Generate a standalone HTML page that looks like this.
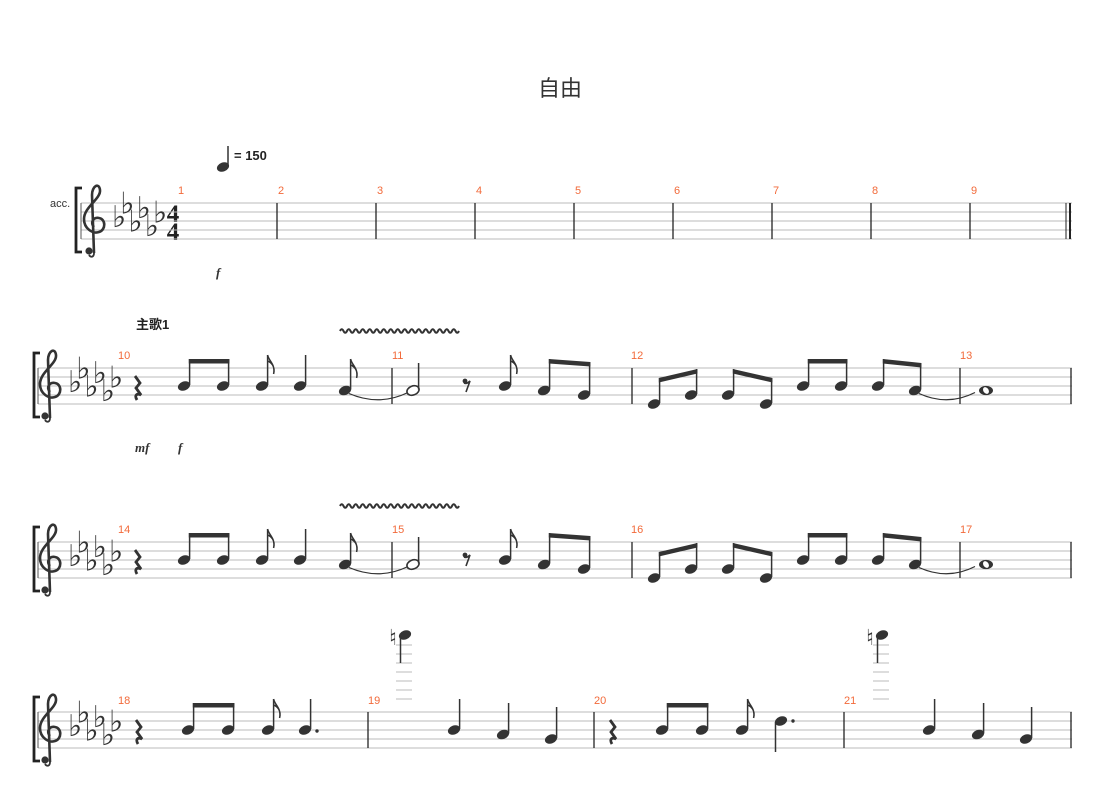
<!DOCTYPE html>
<html><head><meta charset="utf-8"><style>
html,body{margin:0;padding:0;background:#fff;width:1110px;height:785px;overflow:hidden}
svg{display:block}
.t{font-family:"Liberation Sans","Noto Sans CJK SC",sans-serif}
.mn{font-family:"Liberation Sans",sans-serif;font-size:11px;fill:#f26a3a}
.dyn{font-family:"Liberation Serif",serif;font-style:italic;font-weight:bold;font-size:13px;fill:#333}
.fl{font-family:"DejaVu Sans",sans-serif;font-size:30px;fill:#333}
</style></head><body>
<svg id="s" width="1110" height="785" xmlns="http://www.w3.org/2000/svg">
<text x="560" y="96" text-anchor="middle" class="t" font-size="22" fill="#333">自由</text>
<text x="234" y="160" class="t" font-size="13" font-weight="bold" fill="#222">= 150</text>
<text x="50" y="207" class="t" font-size="11" fill="#333">acc.</text>
<text x="136" y="329" class="t" font-size="13" font-weight="bold" fill="#222">主歌1</text>
<text x="216" y="277" class="dyn">f</text>
<text x="135" y="452" class="dyn">mf</text>
<text x="178" y="452" class="dyn">f</text>
<text x="178" y="194" class="mn">1</text><text x="278" y="194" class="mn">2</text><text x="377" y="194" class="mn">3</text>
<text x="476" y="194" class="mn">4</text><text x="575" y="194" class="mn">5</text><text x="674" y="194" class="mn">6</text>
<text x="773" y="194" class="mn">7</text><text x="872" y="194" class="mn">8</text><text x="971" y="194" class="mn">9</text>
<text x="118" y="359" class="mn">10</text><text x="392" y="359" class="mn">11</text><text x="631" y="359" class="mn">12</text><text x="960" y="359" class="mn">13</text>
<text x="118" y="533" class="mn">14</text><text x="392" y="533" class="mn">15</text><text x="631" y="533" class="mn">16</text><text x="960" y="533" class="mn">17</text>
<text x="118" y="704" class="mn">18</text><text x="368" y="704" class="mn">19</text><text x="594" y="704" class="mn">20</text><text x="844" y="704" class="mn">21</text>
<text x="173" y="222" font-family="Liberation Serif,serif" font-weight="bold" font-size="25" text-anchor="middle" fill="#222">4</text>
<text x="173" y="240" font-family="Liberation Serif,serif" font-weight="bold" font-size="25" text-anchor="middle" fill="#222">4</text>
<g id="g"></g>
</svg>
<script>
var g=document.getElementById('g'),h='';
function L(x1,y1,x2,y2,w,c){h+='<line x1="'+x1+'" y1="'+y1+'" x2="'+x2+'" y2="'+y2+'" stroke="'+(c||'#222')+'" stroke-width="'+(w||1)+'"/>';}
function P(d,f,s,w){h+='<path d="'+d+'" fill="'+(f||'none')+'" stroke="'+(s||'none')+'" stroke-width="'+(w||1)+'"/>';}
function head(x,y,hollow){h+='<ellipse cx="'+x+'" cy="'+y+'" rx="6.3" ry="4.5" transform="rotate(-22 '+x+' '+y+')" fill="'+(hollow?'#fff':'#333')+'" stroke="#333" stroke-width="'+(hollow?1.6:0)+'"/>';}
function stemUp(x,y,top){L(x+5.6,y-1,x+5.6,top,1.5,'#333');}
function flag(x,top){P('M'+(x+5.6)+' '+top+' c1 6 8 9 6 19 c2-8-3-12-6-13','none','#333',1.5);}
function beam(x1,t1,x2,t2){P('M'+(x1+4.8)+' '+t1+' L'+(x2+6.4)+' '+t2+' L'+(x2+6.4)+' '+(t2+4.5)+' L'+(x1+4.8)+' '+(t1+4.5)+'Z','#333');}
function tie(x1,y1,x2,y2){P('M'+(x1+4)+' '+(y1+3)+' Q'+((x1+x2)/2)+' '+(Math.max(y1,y2)+16)+' '+(x2-5)+' '+(y2+2),'none','#333',1.2);}
function qrest(x,y0){P('M'+(x-2)+' '+(y0+8)+' l5 7 l-4 5 l5 7 c-4-2-7 0-4 5','none','#333',2.8);}
function erest(x,y0){h+='<circle cx="'+(x-2)+'" cy="'+(y0+13)+'" r="2.4" fill="#333"/>';P('M'+(x-3)+' '+(y0+15)+' c2 1 4 0 6-2 l-4 11','none','#333',1.6);}
function clef(x,y0){
 P('M'+(x+10)+' '+(y0+50)+' L'+(x+8)+' '+(y0-8)+' c0-9 7-13 8-5 c1 9-16 17-16 29 c0 10 9 15 15 13 c7-2 7-13 0-14 c-6-1-9 5-5 9','none','#333',2.6);
 h+='<circle cx="'+(x+5)+'" cy="'+(y0+48)+'" r="3.6" fill="#333"/>';
 P('M'+(x+10)+' '+(y0+50)+' c0 4-3 5-5 2','none','#333',1.8);}
function flats(x,y0){var o=[18,4.5,22.5,9,27,13.5];for(var i=0;i<6;i++){h+='<text class="fl" x="'+(x+i*8.2)+'" y="'+(y0+o[i]+6)+'">♭</text>';}}
function staff(x1,x2,y0){for(var i=0;i<5;i++)L(x1,y0+i*9,x2,y0+i*9,1,'#bbb');L(x1,y0,x1,y0+36,1,'#555');}
function bar(x,y0){L(x,y0,x,y0+36,1.3,'#222');}
function bracket(x,y0){P('M'+(x+6)+' '+(y0-15)+' L'+x+' '+(y0-15)+' L'+x+' '+(y0+49)+' L'+(x+6)+' '+(y0+49),'none','#222',2.8);}
function wavy(x1,x2,y){var d='M'+x1+' '+y;for(var x=x1;x<x2;x+=7)d+=' q1.75-3.5 3.5 0 q1.75 3.5 3.5 0';P(d,'none','#333',2);}
var y0=203;staff(81,1072,y0);bracket(76,y0);clef(84,y0);flats(112,y0);
[277,376,475,574,673,772,871,970].forEach(function(x){bar(x,y0)});L(1066,y0,1066,y0+36,1,'#222');L(1070,y0,1070,y0+36,2,'#222');
head(223,167);L(228,166,228,146,1.5,'#333');
function sys23(y0){
 staff(38,1072,y0);bracket(34,y0);clef(40,y0);flats(68,y0);
 [392,632,960,1071].forEach(function(x){bar(x,y0)});
 var B=y0+18,A=y0+22.5,G=y0+27,E=y0+36;
 qrest(137,y0);
 head(184,B);head(223,B);stemUp(184,B,y0-9);stemUp(223,B,y0-9);beam(184,y0-9,223,y0-9);
 head(262,B);stemUp(262,B,y0-13);flag(262,y0-13);
 head(300,B);stemUp(300,B,y0-13);
 head(345,A);stemUp(345,A,y0-9);flag(345,y0-9);
 tie(345,A,413,A);
 head(413,A,1);stemUp(413,A,y0-5);
 erest(467,y0);
 head(505,B);stemUp(505,B,y0-13);flag(505,B-31);
 head(544,A);head(584,G);stemUp(544,A,y0-9);stemUp(584,G,y0-6);beam(544,y0-9,584,y0-6);
 head(654,E);head(691,G);stemUp(654,E,y0+10);stemUp(691,G,y0+1);beam(654,y0+10,691,y0+1);
 head(728,G);head(766,E);stemUp(728,G,y0+1);stemUp(766,E,y0+10);beam(728,y0+1,766,y0+10);
 head(803,B);head(841,B);stemUp(803,B,y0-9);stemUp(841,B,y0-9);beam(803,y0-9,841,y0-9);
 head(878,B);head(915,A);stemUp(878,B,y0-9);stemUp(915,A,y0-5);beam(878,y0-9,915,y0-5);
 tie(915,A,980,A);
 h+='<ellipse cx="986" cy="'+A+'" rx="7" ry="4.6" fill="#333"/><ellipse cx="986" cy="'+A+'" rx="2.6" ry="3.6" transform="rotate(-35 986 '+A+')" fill="#fff"/>';
}
sys23(368);wavy(340,458,331);
sys23(542);wavy(340,458,506);
y0=712;staff(38,1072,y0);bracket(34,y0);clef(40,y0);flats(68,y0);
[368,594,844,1071].forEach(function(x){bar(x,y0)});
var B=y0+18,A=y0+22.5,G=y0+27,D=y0+9;
function m18(o){
 qrest(o+138,y0);
 head(o+188,B);head(o+228,B);stemUp(o+188,B,y0-9);stemUp(o+228,B,y0-9);beam(o+188,y0-9,o+228,y0-9);
 head(o+268,B);stemUp(o+268,B,y0-13);flag(o+268,y0-13);
}
m18(0);head(305,B);stemUp(305,B,y0-13);h+='<circle cx="317" cy="'+(B+1)+'" r="1.7" fill="#333"/>';
m18(474);head(781,D);L(775.5,D+1,775.5,D+31,1.5,'#333');h+='<circle cx="793" cy="'+(D)+'" r="1.7" fill="#333"/>';
function m19(o){head(o+454,B);stemUp(o+454,B,y0-13);head(o+503,A);stemUp(o+503,A,y0-9);head(o+551,G);stemUp(o+551,G,y0-5);}
m19(0);m19(475);
function ossia(x){
 [645,654,663,672,681,690,699].forEach(function(y){L(x-9,y,x+7,y,1,'#bbb')});
 head(x,635);L(x-4.5,636,x-4.5,663,1.5,'#333');
 h+='<text x="'+(x-16)+'" y="645" font-family="DejaVu Sans,sans-serif" font-size="22" fill="#333">♮</text>';
}
ossia(405);ossia(882);
g.innerHTML=h;
</script>
</body></html>
